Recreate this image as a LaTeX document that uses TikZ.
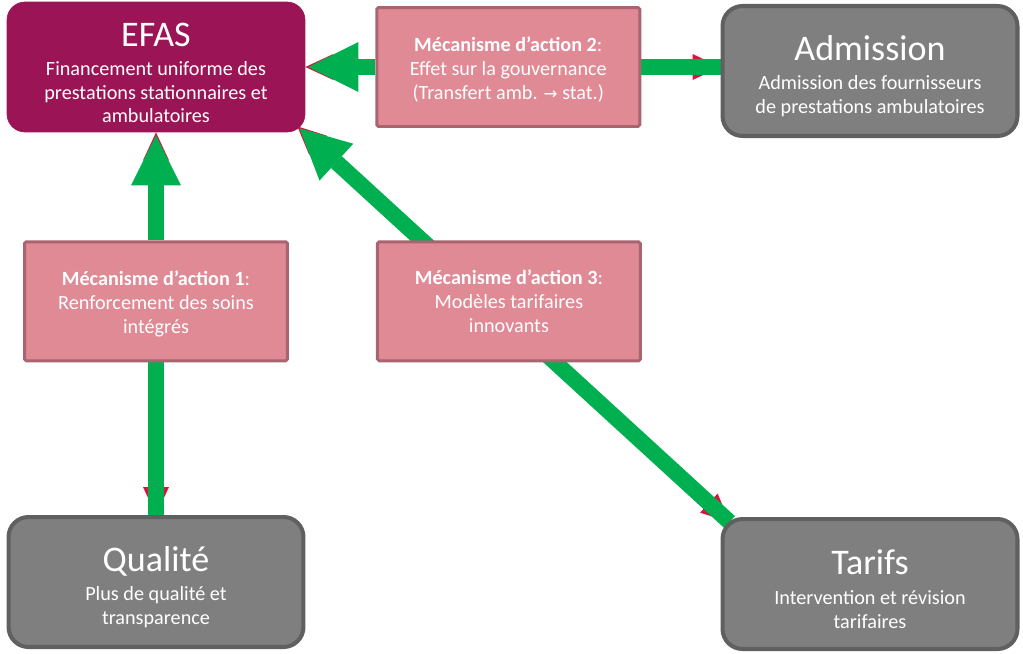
\documentclass[tikz,border=0pt]{standalone}
\usepackage{fontspec}
\setmainfont{Carlito}
\newfontfamily\symfont{DejaVu Sans}
\usepackage{tikz}
\usetikzlibrary{arrows.meta,positioning,calc}
\definecolor{efaspurple}{RGB}{155,20,85}
\definecolor{mechpink}{RGB}{224,138,149}
\definecolor{mechborder}{RGB}{168,101,112}
\definecolor{boxgray}{RGB}{127,127,127}
\definecolor{grayborder}{RGB}{96,96,96}
\definecolor{arrowgreen}{RGB}{0,176,80}
\definecolor{tipred}{RGB}{214,22,62}
\pgfdeclarelayer{background}
\pgfsetlayers{background,main}
\newcommand{\boxtitle}[1]{{\fontsize{20.5}{20.5}\selectfont\rule{0pt}{20pt}#1}}

\begin{document}
\begin{tikzpicture}[
    x=0.02cm, y=-0.02cm,
    efasbox/.style={rectangle, rounded corners=0.36cm, fill=efaspurple, draw=efaspurple, minimum width=5.96cm, minimum height=2.6cm, text=white, align=center, font=\fontsize{11.5}{13.6}\selectfont},
    mechbox/.style={rectangle, rounded corners=1pt, fill=mechpink, draw=mechborder, line width=1.7pt, minimum width=5.26cm, minimum height=2.38cm, text=white, align=center, font=\fontsize{11.5}{13.6}\selectfont},
    outbox/.style={rectangle, rounded corners=0.4cm, fill=boxgray, draw=grayborder, line width=2.3pt, minimum width=5.9cm, minimum height=2.6cm, text=white, align=center, font=\fontsize{11.5}{13.6}\selectfont},
    bigarrow/.style={arrowgreen, line width=0.32cm, -{Triangle[length=1cm, width=1cm, line width=0pt]}, shorten >=0.06cm},
    barline/.style={arrowgreen, line width=0.32cm},
    redtip/.style={tipred, line width=1pt, -{Triangle[length=0.56cm, width=0.52cm, line width=0pt]}}
]
\useasboundingbox (0,0) rectangle (1023,653);

% Central box
\node[efasbox] (efas) at (156,67) {\boxtitle{EFAS}\\[3pt] Financement uniforme des\\ prestations stationnaires et\\ ambulatoires};

% Mechanisms
\node[mechbox, right=1.4cm of efas] (mech2) {\rule{0pt}{11pt}\textbf{Mécanisme d’action 2}:\\ Effet sur la gouvernance\\ (Transfert amb. {\symfont\fontsize{9.5}{13.6}\selectfont →} stat.)};
\node[mechbox, below=2.16cm of efas] (mech1) {\rule{0pt}{11pt}\textbf{Mécanisme d’action 1}:\\ Renforcement des soins\\ intégrés};
\node[mechbox, right=1.74cm of mech1] (mech3) {\textbf{Mécanisme d’action 3}:\\ Modèles tarifaires\\ innovants};

% Outcomes
\node[outbox] (admission) at (870,71) {\boxtitle{Admission}\\[3pt] Admission des fournisseurs\\ de prestations ambulatoires};
\node[outbox] (qualite) at (156,582) {\boxtitle{Qualité}\\[3pt] Plus de qualité et\\ transparence};
\node[outbox] (tarifs) at (870,584) {\boxtitle{Tarifs}\\[3pt] Intervention et révision\\ tarifaires};

% Diagonal through mechanism 3
\coordinate (c1) at ($(efas.south east)+(-8,-6)$);
\coordinate (c2) at ($(tarifs.north west)+(9,5)$);
\coordinate (m3a) at (intersection of c1--c2 and mech3.north west--mech3.north east);
\coordinate (m3b) at (intersection of c1--c2 and mech3.south west--mech3.south east);

\begin{pgfonlayer}{background}
% red tips
\draw[redtip] (mech2.west) -- (efas.east);
\draw[redtip] (mech2.east) -- (mech2.east -| admission.west);
\draw[redtip] (mech1.north) -- (efas.south);
\draw[redtip] (mech1.south) -- (qualite.north);
\draw[redtip] (m3a) -- (c1);
\draw[redtip] (m3b) -- (c2);

% green arrows
\draw[bigarrow] (mech2.west) -- (efas.east);
\draw[barline] (mech2.east) -- (mech2.east -| admission.west);
\draw[bigarrow] (mech1.north) -- (efas.south);
\draw[barline] (mech1.south) -- (qualite.north);
\draw[bigarrow, shorten <=-0.3cm] (m3a) -- (c1);
\draw[barline, shorten <=-0.3cm] (m3b) -- (c2);
\end{pgfonlayer}

\end{tikzpicture}
\end{document}
